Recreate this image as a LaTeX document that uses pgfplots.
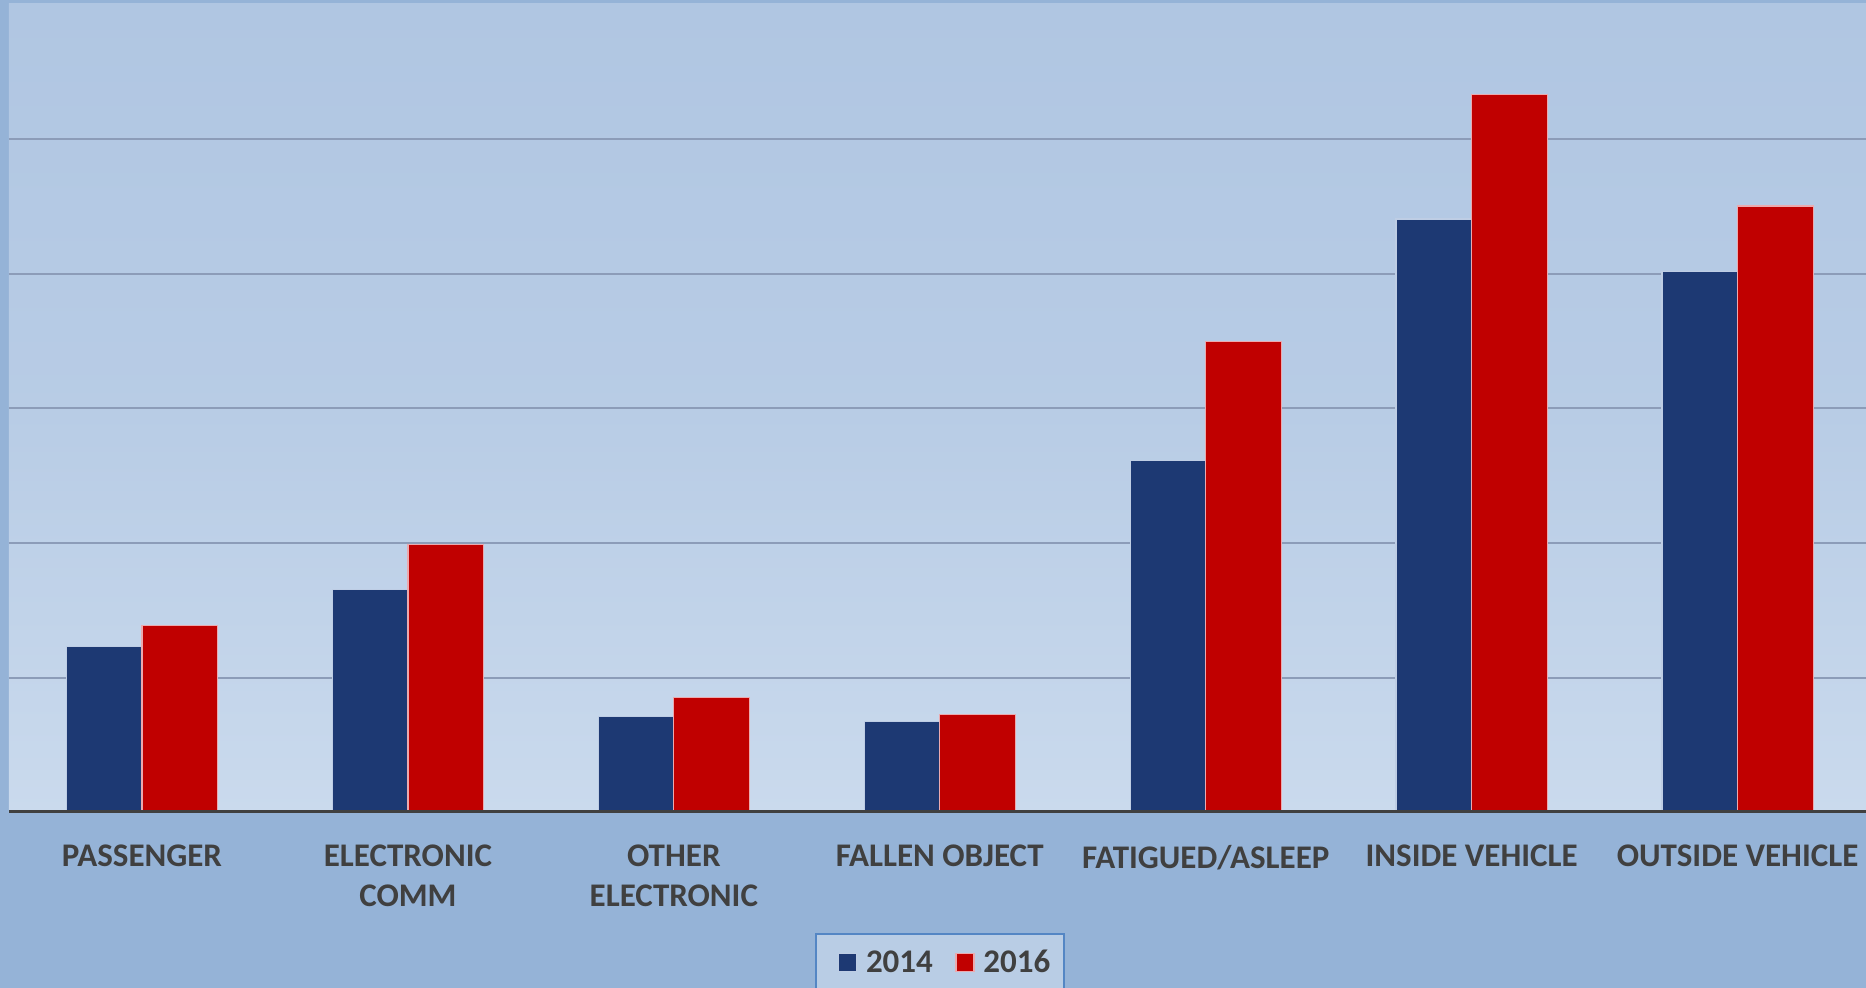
\documentclass[border=0pt]{standalone}
\usepackage{fontspec}
\setmainfont{Carlito}
\usepackage{pgfplots}
\pgfplotsset{compat=1.18}
\definecolor{outerbg}{RGB}{149,179,215}
\definecolor{plottop}{RGB}{176,198,226}
\definecolor{plotbot}{RGB}{202,218,237}
\definecolor{gridc}{RGB}{140,156,184}
\definecolor{labc}{RGB}{64,64,64}
\definecolor{cblue}{RGB}{29,57,115}
\definecolor{cred}{RGB}{192,0,0}
\definecolor{legfill}{RGB}{185,205,229}
\definecolor{legdraw}{RGB}{84,134,196}
\begin{document}
\begin{tikzpicture}
\fill[outerbg] (-4.5pt,-87.5pt) rectangle (928.5pt,406.5pt);
\begin{axis}[
  scale only axis,
  width=928.5pt, height=404.5pt,
  at={(0pt,0pt)}, anchor=south west,
  xmin=-0.5, xmax=6.483,
  ymin=0, ymax=6,
  ybar=0pt, bar width=37.8pt,
  axis background/.style={top color=plottop, bottom color=plotbot, middle color=plottop!70!plotbot},
  axis line style={draw=none},
  xtick={0,1,2,3,4,5,6},
  xticklabels={PASSENGER,{ELECTRONIC\\COMM},{OTHER\\ELECTRONIC},FALLEN OBJECT,FATIGUED/ASLEEP,INSIDE VEHICLE,OUTSIDE VEHICLE},
  xticklabel style={font=\fontsize{16.5}{20.2}\selectfont\bfseries, text=labc, align=center, yshift=-12.4pt},
  ytick={1,2,3,4,5},
  yticklabels={},
  major tick length=0pt,
  ymajorgrids,
  grid style={draw=gridc, line width=1pt},
  legend columns=2,
  legend style={at={(axis description cs:0.5013,-0.1483)}, anchor=north,
    fill=legfill, draw=legdraw, line width=1pt,
    font=\fontsize{16.5}{20.2}\selectfont\bfseries, text=labc,
    inner xsep=4.8pt, inner ysep=6pt,
    nodes={inner sep=2pt},
    /tikz/every even column/.append style={column sep=3pt}},
  legend image code/.code={\path (0pt,0pt) (17.6pt,0pt); \fill[#1] (6.2pt,-4.5pt) rectangle (15.2pt,4.5pt);},
]
\addplot[fill=cblue, draw={rgb,255:red,190;green,205;blue,228}, line width=0.6pt] coordinates {
 (0,1.233) (1,1.656) (2,0.714) (3,0.678) (4,2.617) (5,4.405) (6,4.018)};
\addplot[fill=cred, draw={rgb,255:red,235;green,170;blue,175}, line width=0.6pt] coordinates {
 (0,1.392) (1,1.991) (2,0.855) (3,0.731) (4,3.498) (5,5.330) (6,4.502)};
\legend{2014,2016}
\draw[labc, line width=2.5pt] (axis cs:-0.5,0) -- (axis cs:6.483,0);
\end{axis}
\pgfresetboundingbox
\path (-4.5pt,-87.5pt) rectangle (928.5pt,406.5pt);
\end{tikzpicture}
\end{document}
